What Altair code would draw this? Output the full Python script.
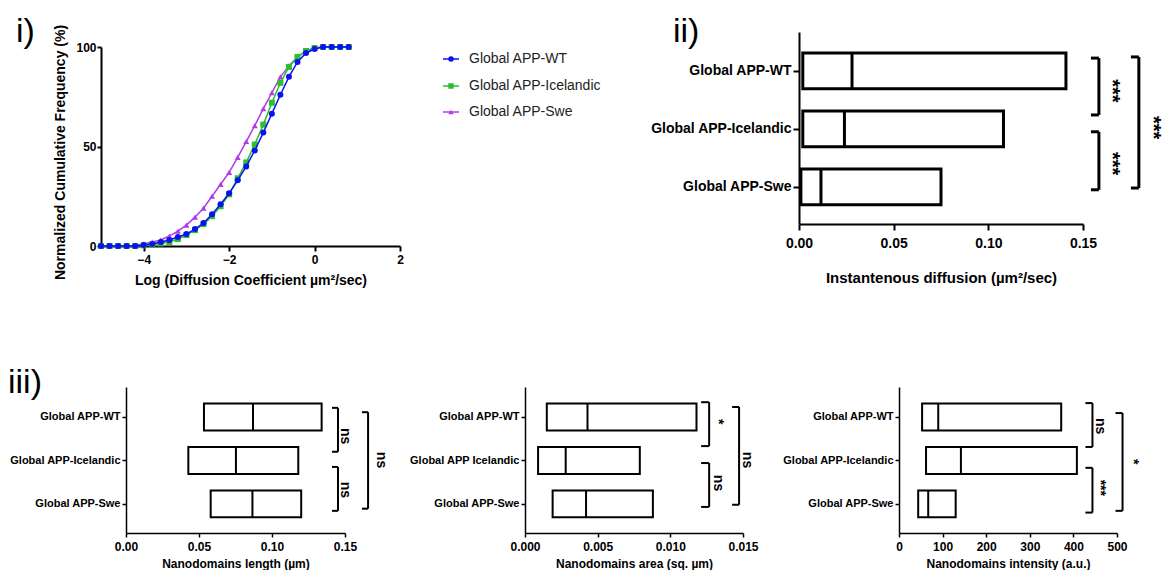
import altair as alt
import pandas as pd

FONT = "Liberation Sans"

# ---------------- Panel i : cumulative distributions ----------------
log_diff = [-5.0, -4.8, -4.6, -4.4, -4.2, -4.0, -3.8, -3.6, -3.4, -3.2,
            -3.0, -2.8, -2.6, -2.4, -2.2, -2.0, -1.8, -1.6, -1.4, -1.2,
            -1.0, -0.8, -0.6, -0.4, -0.2, 0.0, 0.2, 0.4, 0.6, 0.8]
cum_wt = [0, 0, 0, 0, 0, 0.5, 1, 2, 3, 4.5, 6, 8.5, 11.5, 16, 21, 26.5, 33, 40, 48, 57,
          66.5, 76, 85, 92.5, 97, 99, 100, 100, 100, 100]
cum_ice = [0, 0, 0, 0, 0, 0.3, 0.7, 1.3, 2, 3.5, 5.5, 8, 11, 15, 20, 26, 34, 42, 51, 61,
           72, 82, 90, 95, 98, 99.5, 100, 100, 100, 100]
cum_swe = [0, 0, 0, 0, 0.3, 1, 2, 3, 5, 7.5, 10.5, 14.5, 19, 25, 31, 37, 44.5, 52.5, 60.5, 69,
           77, 85, 90.5, 95, 98, 99.5, 100, 100, 100, 100]

series_names = ["Global APP-WT", "Global APP-Icelandic", "Global APP-Swe"]
series_colors = ["#0A12F2", "#2DBE2D", "#B23BE6"]
series_shapes = ["circle", "square", "triangle-up"]

# ---------------- Panel ii : instantaneous diffusion ----------------
groups = ["Global APP-WT", "Global APP-Icelandic", "Global APP-Swe"]
diff_low = [0.002, 0.002, 0.001]
diff_med = [0.028, 0.024, 0.0116]
diff_high = [0.141, 0.108, 0.075]

# ---------------- Panel iii : nanodomains ----------------
groups_area = ["Global APP-WT", "Global APP Icelandic", "Global APP-Swe"]
len_low = [0.0534, 0.0427, 0.058]
len_med = [0.087, 0.0753, 0.0866]
len_high = [0.134, 0.118, 0.120]

area_low = [0.0015, 0.0009, 0.0019]
area_med = [0.0043, 0.0028, 0.0042]
area_high = [0.0118, 0.0079, 0.0088]

int_low = [53, 62, 44]
int_med = [90, 142, 67]
int_high = [372, 408, 130]

# significance brackets (data units: x on value axis, y on row index)
br_ii = [
    dict(bx=0.1584, arm=0.1542, y1=-0.22, y2=0.76, tx=0.1653, ty=0.345, label="***"),
    dict(bx=0.1584, arm=0.1542, y1=1.05, y2=2.05, tx=0.1653, ty=1.60, label="***"),
    dict(bx=0.1795, arm=0.1753, y1=-0.24, y2=2.02, tx=0.1870, ty=0.98, label="***"),
]
br_len = [
    dict(bx=0.1452, arm=0.1411, y1=-0.21, y2=0.80, tx=0.1500, ty=0.44, label="ns"),
    dict(bx=0.1452, arm=0.1411, y1=1.15, y2=2.16, tx=0.1500, ty=1.68, label="ns"),
    dict(bx=0.1658, arm=0.1616, y1=-0.11, y2=2.11, tx=0.1745, ty=0.99, label="ns"),
]
br_area = [
    dict(bx=0.01267, arm=0.01212, y1=-0.34, y2=0.67, tx=0.01330, ty=0.11, label="*"),
    dict(bx=0.01267, arm=0.01212, y1=1.06, y2=2.07, tx=0.01330, ty=1.52, label="ns"),
    dict(bx=0.01473, arm=0.01425, y1=-0.23, y2=2.02, tx=0.01530, ty=0.99, label="ns"),
]
br_int = [
    dict(bx=443.7, arm=427.6, y1=-0.32, y2=0.69, tx=460.0, ty=0.21, label="ns"),
    dict(bx=443.7, arm=427.6, y1=1.17, y2=2.20, tx=460.0, ty=1.63, label="***"),
    dict(bx=512.7, arm=496.6, y1=-0.09, y2=2.16, tx=537.0, ty=1.03, label="*"),
]


def one_row(**kw):
    return alt.Chart(pd.DataFrame({k: [v] for k, v in kw.items()}))


def panel_label(text, x, y):
    return one_row(t=text).mark_text(
        fontSize=34, align="left", baseline="alphabetic", color="black", font=FONT
    ).encode(x=alt.value(x), y=alt.value(y), text="t:N")


def anchor(x, y):
    # invisible mark that fixes the extent of the drawing
    return one_row(a=0).mark_rule(opacity=0, strokeWidth=1).encode(
        x=alt.value(x), x2=alt.value(x + 1), y=alt.value(y))


# ---------------- build panel i ----------------
xs_i = alt.Scale(domain=[-5, 2], range=[-25, 274], nice=False, zero=False)
ys_i = alt.Scale(domain=[0, 100], range=[214, 15], nice=False, zero=False)
xa_i = alt.Axis(values=[-4, -2, 0, 2], format="d", labelFontSize=12, labelFontWeight="bold",
                labelColor="black", tickSize=5, tickWidth=2, domainWidth=2, domainColor="black",
                tickColor="black", labelPadding=3, labelFlush=False, grid=False,
                titleFontSize=14, titleFontWeight="bold", titleColor="black", titlePadding=8)
ya_i = alt.Axis(values=[0, 50, 100], labelFontSize=12, labelFontWeight="bold", labelColor="black",
                tickSize=4, tickWidth=2, domainWidth=2, domainColor="black", tickColor="black",
                labelPadding=1, grid=False, offset=25, titleFontSize=14, titleFontWeight="bold",
                titleColor="black", titlePadding=8, titleY=120)
x_title_i = "Log (Diffusion Coefficient µm²/sec)"
y_title_i = "Normalized Cumulative Frequency (%)"

layers_i = []
for name, vals, col, shp in reversed(list(zip(series_names, [cum_wt, cum_ice, cum_swe],
                                              series_colors, series_shapes))):
    d = alt.Chart(pd.DataFrame({"logd": log_diff, "freq": vals, "series": name}))
    enc = dict(x=alt.X("logd:Q", scale=xs_i, axis=xa_i, title=x_title_i),
               y=alt.Y("freq:Q", scale=ys_i, axis=ya_i, title=y_title_i))
    layers_i.append(d.mark_line(color=col, strokeWidth=1.5).encode(**enc))
    layers_i.append(d.mark_point(shape=shp, filled=True, color=col, size=36, opacity=1).encode(**enc))

# manual legend
leg_y = [27, 54, 80]
for name, col, shp, ly in zip(series_names, series_colors, series_shapes, leg_y):
    r = one_row(series=name)
    layers_i.append(r.mark_rule(color=col, strokeWidth=1.5).encode(
        x=alt.value(317), x2=alt.value(333), y=alt.value(ly)))
    layers_i.append(r.mark_point(shape=shp, filled=True, color=col, size=30, opacity=1).encode(
        x=alt.value(325), y=alt.value(ly)))
    layers_i.append(r.mark_text(align="left", baseline="middle", fontSize=14, color="#222",
                                font=FONT).encode(x=alt.value(343), y=alt.value(ly), text="series:N"))

layers_i.append(panel_label("i)", -110, 10))
layers_i.append(anchor(-118, -24))

panel_i = alt.layer(*layers_i).properties(width=274, height=214)


# ---------------- box panels ----------------
def box_panel(labels, low, med, high, x_dom, x_rng, x_vals, x_fmt, x_title, y_dom,
              width, height, brackets, st, extra=()):
    n = len(labels)
    df = pd.DataFrame({"group": labels, "row": list(range(n)), "low": low, "med": med, "high": high})
    label_expr = "[" + ",".join("'%s'" % l for l in labels) + "][datum.value]"
    xs = alt.Scale(domain=x_dom, range=x_rng, nice=False, zero=False)
    ys = alt.Scale(domain=y_dom, reverse=True, nice=False, zero=False)
    xa = alt.Axis(values=x_vals, format=x_fmt, labelFontSize=st["tick"], labelFontWeight="bold",
                  labelColor="black", tickSize=st["tickSize"], tickWidth=st["axisW"],
                  domainWidth=st["axisW"], domainColor="black", tickColor="black",
                  labelPadding=st["xlp"], labelFlush=False, grid=False,
                  titleFontSize=st["title"], titleFontWeight="bold", titleColor="black",
                  titlePadding=st["tp"])
    ya = alt.Axis(values=list(range(n)), labelExpr=label_expr, labelFontSize=st["cat"],
                  labelFontWeight="bold", labelColor="black", tickSize=st["tickSize"],
                  tickWidth=st["axisW"], domainWidth=st["axisW"], domainColor="black",
                  tickColor="black", labelPadding=st["ylp"], grid=False)

    def X(f):
        return alt.X(f, scale=xs, axis=xa, title=x_title)

    def Y(f):
        return alt.Y(f, scale=ys, axis=ya, title=None)

    base = alt.Chart(df).transform_calculate(top="datum.row - 0.31", bot="datum.row + 0.31")
    bars = base.mark_bar(fill="white", stroke="black", strokeWidth=st["barW"]).encode(
        x=X("low:Q"), x2="high:Q", y=Y("top:Q"), y2="bot:Q")
    meds = base.mark_rule(color="black", strokeWidth=st["barW"]).encode(
        x=X("med:Q"), y=Y("top:Q"), y2="bot:Q")
    bdf = alt.Chart(pd.DataFrame(brackets))
    vert = bdf.mark_rule(color="black", strokeWidth=st["brW"]).encode(
        x=X("bx:Q"), y=Y("y1:Q"), y2="y2:Q")
    arm1 = bdf.mark_rule(color="black", strokeWidth=st["brW"]).encode(
        x=X("arm:Q"), x2="bx:Q", y=Y("y1:Q"))
    arm2 = bdf.mark_rule(color="black", strokeWidth=st["brW"]).encode(
        x=X("arm:Q"), x2="bx:Q", y=Y("y2:Q"))
    sig = bdf.mark_text(angle=90, fontSize=st["sig"], fontWeight="bold", align="center",
                        baseline="middle", color="black", font=FONT).encode(
        x=X("tx:Q"), y=Y("ty:Q"), text="label:N")
    return alt.layer(bars, meds, vert, arm1, arm2, sig, *extra).properties(width=width, height=height)


st_ii = dict(tick=14, cat=14, title=15, tickSize=6, axisW=2, xlp=6, ylp=2, tp=20,
             barW=3, brW=3, sig=20)
st_iii = dict(tick=12, cat=11, title=12, tickSize=4, axisW=1.5, xlp=4, ylp=2, tp=6,
              barW=2, brW=2, sig=14)

panel_ii = box_panel(groups, diff_low, diff_med, diff_high, [0, 0.15], [0, 284],
                     [0, 0.05, 0.10, 0.15], ".2f", "Instantenous diffusion (µm²/sec)",
                     [-0.67, 2.64], 284, 192, br_ii, st_ii,
                     extra=[panel_label("ii)", -126, 10)])

panel_len = box_panel(groups, len_low, len_med, len_high, [0, 0.15], [0, 219],
                      [0, 0.05, 0.10, 0.15], ".2f", "Nanodomains length (µm)",
                      [-0.69, 2.67], 243, 146, br_len, st_iii,
                      extra=[panel_label("iii)", -118, 6), anchor(0, 183)])
panel_area = box_panel(groups_area, area_low, area_med, area_high, [0, 0.015], [0, 218],
                       [0, 0.005, 0.010, 0.015], ".3f", "Nanodomains area (sq. µm)",
                       [-0.69, 2.67], 218, 146, br_area, st_iii)
panel_int = box_panel(groups, int_low, int_med, int_high, [0, 500], [0, 218],
                      [0, 100, 200, 300, 400, 500], "d", "Nanodomains intensity (a.u.)",
                      [-0.69, 2.67], 218, 146, br_int, st_iii)

top = alt.hconcat(panel_i, panel_ii, spacing=399, bounds="flush")
bottom = alt.hconcat(panel_len, panel_area, panel_int, spacing=156, bounds="flush")

# flush bounds: nested rows count as zero height, so the row gap includes the top row height
chart = alt.vconcat(top, bottom, spacing=355, bounds="flush").properties(
    padding=0
).configure(font=FONT).configure_view(stroke=None)

chart.save("out.html", embed_options={"renderer": "svg", "actions": False})
